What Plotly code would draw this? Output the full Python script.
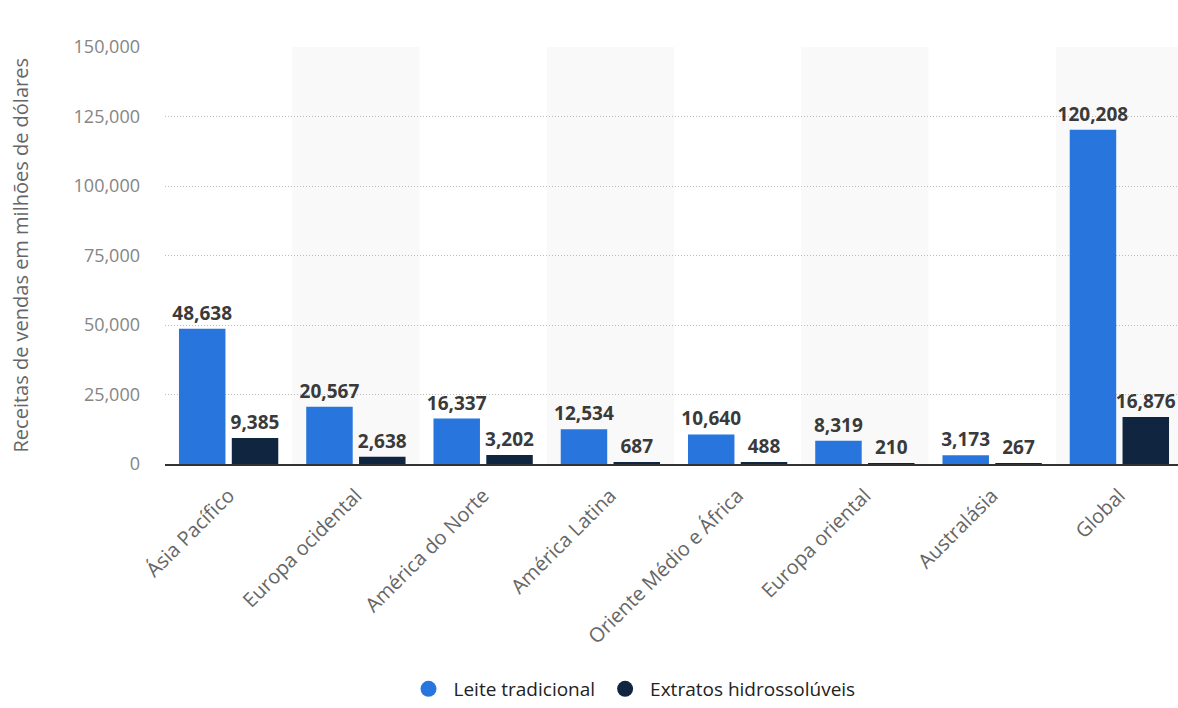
import plotly.graph_objects as go

categories = ["Ásia Pacífico", "Europa ocidental", "América do Norte", "América Latina",
              "Oriente Médio e África", "Europa oriental", "Australásia", "Global"]
leite = [48638, 20567, 16337, 12534, 10640, 8319, 3173, 120208]
extratos = [9385, 2638, 3202, 687, 488, 210, 267, 16876]
series_names = ["Leite tradicional", "Extratos hidrossolúveis"]
colors = ["#2876dd", "#10253f"]
y_ticks = [0, 25000, 50000, 75000, 100000, 125000, 150000]
y_title = "Receitas de vendas em milhões de dólares"

W = 1183
fig = go.Figure()
for name, vals, col in zip(series_names, [leite, extratos], colors):
    fig.add_trace(go.Bar(
        x=categories, y=vals, name=name, marker=dict(color=col, line=dict(width=0)),
        text=[f"{v:,}" for v in vals], textposition="outside", cliponaxis=False,
        constraintext="none",
        textfont=dict(family="Open Sans", size=19, color="#3a3a3a", weight="bold"),
        showlegend=False,
    ))
    fig.add_trace(go.Scatter(
        x=[None], y=[None], mode="markers", name=name,
        marker=dict(symbol="circle", size=19, color=col),
    ))

shapes = []
for i in range(len(categories)):
    if i % 2 == 1:
        shapes.append(dict(type="rect", xref="x", yref="paper", x0=i - 0.5, x1=i + 0.5,
                           y0=0, y1=1, fillcolor="#f9f9f9", line=dict(width=0), layer="below"))

fig.update_layout(
    width=W, height=708,
    margin=dict(l=165, r=0, t=47, b=244),
    paper_bgcolor="white", plot_bgcolor="white",
    barmode="group", bargap=0.17, bargroupgap=0.12,
    font=dict(family="Open Sans", color="#666666"),
    shapes=shapes,
    annotations=[dict(text=y_title, xref="paper", yref="paper", x=(20 - 165) / (W - 165), y=0.5,
                      xanchor="center", yanchor="middle", textangle=-90, showarrow=False,
                      font=dict(family="Open Sans", size=20, color="#666666"))],
    legend=dict(orientation="h", xref="container", yref="container",
                x=632 / W, xanchor="center", y=0, yanchor="bottom",
                font=dict(family="Open Sans", size=19, color="#222222"),
                itemwidth=40, traceorder="normal"),
    xaxis=dict(tickangle=-45, tickfont=dict(size=20, color="#666666"), showgrid=False,
               showline=True, linecolor="#333333", linewidth=2, ticks="", automargin=False,
               ticklabelstandoff=10),
    yaxis=dict(range=[0, 150000], tickvals=y_ticks, tickformat=",",
               tickfont=dict(size=18, color="#858585"),
               showgrid=True, gridcolor="#bdbdbd", griddash="1px,2px", gridwidth=1,
               zeroline=False, ticklabelstandoff=24, automargin=False),
)
fig.write_html("out.html", config={"displayModeBar": False},
               post_script="document.body.style.margin='0';document.body.style.overflow='hidden';")
